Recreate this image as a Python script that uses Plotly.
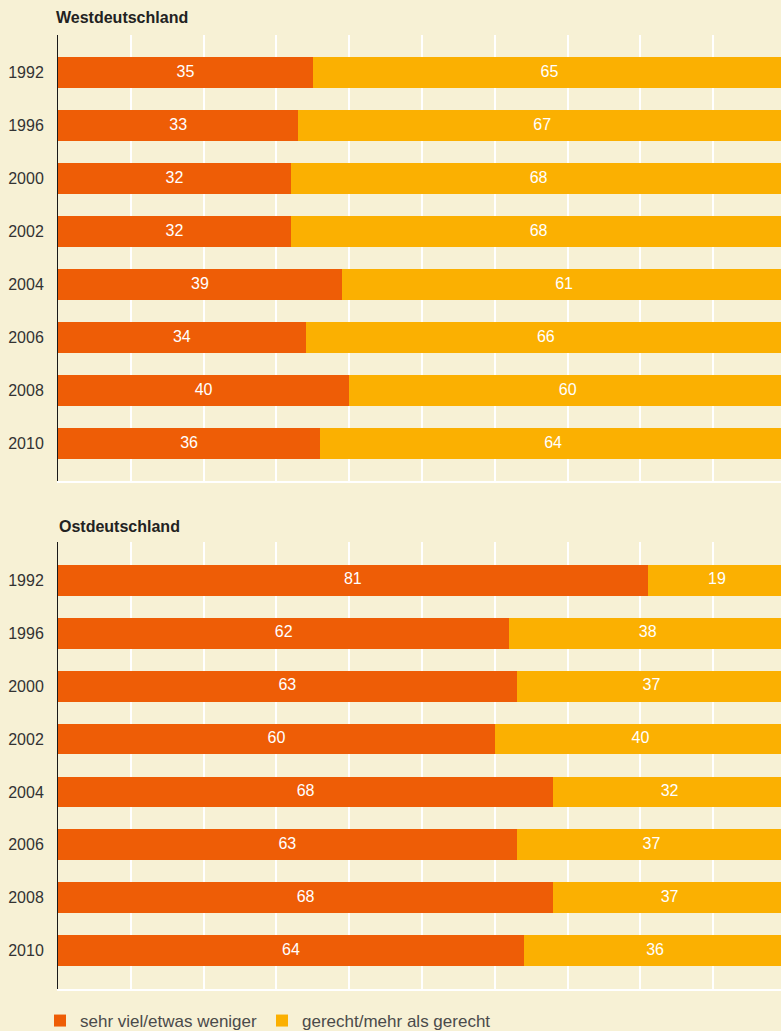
import plotly.graph_objects as go

years = ["1992", "1996", "2000", "2002", "2004", "2006", "2008", "2010"]
west_weniger = [35, 33, 32, 32, 39, 34, 40, 36]
west_gerecht = [65, 67, 68, 68, 61, 66, 60, 64]
ost_weniger = [81, 62, 63, 60, 68, 63, 68, 64]
ost_gerecht = [19, 38, 37, 40, 32, 37, 37, 36]

ORANGE = "#EE5D06"
YELLOW = "#FBB001"
BG = "#F7F1D5"
FONT = "Liberation Sans"

fig = go.Figure()

panels = [
    ("x", "y", west_weniger, west_gerecht, True),
    ("x2", "y2", ost_weniger, ost_gerecht, False),
]
for xa, ya, weniger, gerecht, legend in panels:
    for name, vals, color in [
        ("sehr viel/etwas weniger", weniger, ORANGE),
        ("gerecht/mehr als gerecht", gerecht, YELLOW),
    ]:
        fig.add_trace(go.Bar(
            y = years, x = vals, orientation = "h",
            name = name, legendgroup = name, showlegend = legend,
            marker = dict(color = color, line = dict(width = 0)),
            xaxis = xa, yaxis = ya,
            hoverinfo = "skip",
        ))
    # value labels, centred on the visible part of each segment
    label_x = [w / 2 for w in weniger] + [(w + min(w + g, 100)) / 2 for w, g in zip(weniger, gerecht)]
    fig.add_trace(go.Scatter(
        x = label_x, y = years + years, mode = "text",
        text = [str(v) for v in weniger + gerecht],
        textposition = "middle center",
        textfont = dict(color = "white", size = 16, family = FONT),
        showlegend = False, hoverinfo = "skip", cliponaxis = False,
        xaxis = xa, yaxis = ya,
    ))

xcommon = dict(
    range = [0, 99.3], dtick = 10, showgrid = True, gridcolor = "white", gridwidth = 1.5,
    zeroline = False, showticklabels = False, ticks = "",
    showline = True, linecolor = "white", linewidth = 1.5, fixedrange = True,
)
ycommon = dict(
    type = "category", categoryarray = years, showgrid = False, zeroline = False,
    showline = True, linecolor = "#1a1a1a", linewidth = 1, ticks = "",
    ticklabelstandoff = 10, tickfont = dict(size = 16, color = "#333333", family = FONT),
    fixedrange = True,
)

fig.update_layout(
    barmode = "stack",
    bargap = 0.42,
    width = 781,
    height = 1031,
    margin = dict(l = 58, r = 0, t = 0, b = 20, autoexpand = False),
    paper_bgcolor = BG,
    plot_bgcolor = BG,
    font = dict(family = FONT, color = "#333333"),
    xaxis = dict(xcommon, anchor = "y"),
    xaxis2 = dict(xcommon, anchor = "y2"),
    yaxis = dict(ycommon, domain = [0.52423, 0.96538], range = [7.7075, -0.7075], anchor = "x"),
    yaxis2 = dict(ycommon, domain = [0.02176, 0.46390], range = [7.728, -0.728], anchor = "x2"),
    legend = dict(
        orientation = "h", x = -0.0249, xanchor = "left", y = -0.00989, yanchor = "middle",
        font = dict(size = 17, color = "#4a4a4a", family = FONT),
        bgcolor = "rgba(0,0,0,0)", traceorder = "normal",
    ),
    annotations = [
        dict(text = "<b>Westdeutschland</b>", xref = "paper", yref = "paper", x = 0, y = 0.98220,
             xanchor = "left", yanchor = "middle", xshift = -4, showarrow = False,
             font = dict(size = 16, color = "#222222", family = FONT)),
        dict(text = "<b>Ostdeutschland</b>", xref = "paper", yref = "paper", x = 0, y = 0.47972,
             xanchor = "left", yanchor = "middle", xshift = -1, showarrow = False,
             font = dict(size = 16, color = "#222222", family = FONT)),
    ],
)

fig.write_html(
    "out.html",
    config = {"displayModeBar": False},
    post_script = "document.body.style.margin='0';document.body.style.background='" + BG + "';",
)
